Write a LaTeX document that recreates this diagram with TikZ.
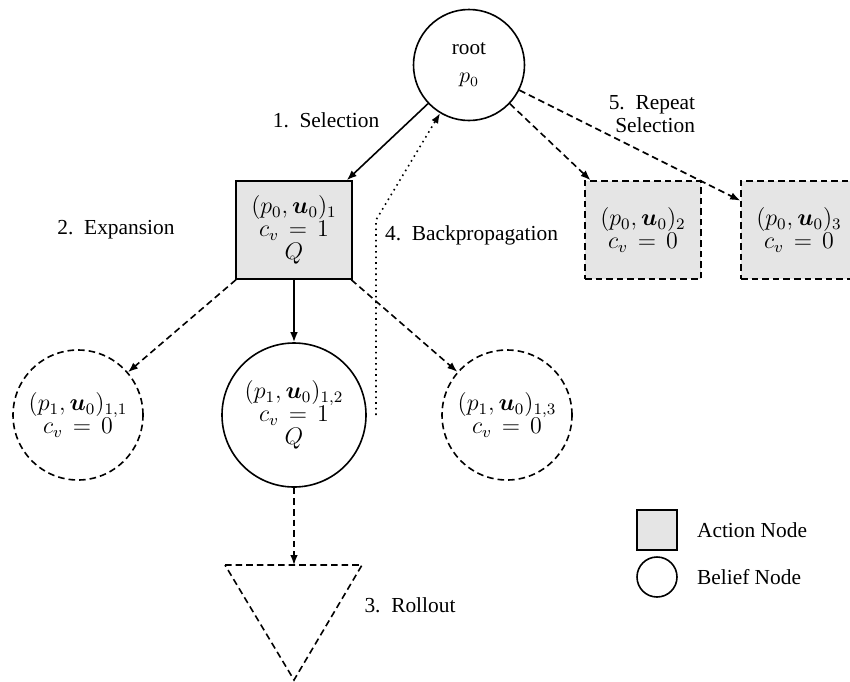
\documentclass[tikz,border=0pt]{standalone}
\usepackage{fontspec}
\setmainfont{Liberation Serif}
\usepackage{bm}
\usetikzlibrary{arrows.meta}
\thickmuskip=7.5mu plus 5mu
\begin{document}
\begin{tikzpicture}[x=0.5pt, y=-0.5pt,
        belief/.style={draw, circle, thick, inner sep=0pt, align=center,
            font=\fontsize{12}{11.5}\selectfont},
        newbelief/.style={belief, dash pattern=on 3.3pt off 2pt},
        action/.style={draw, rectangle, thick, fill=gray!20, inner sep=0pt,
            minimum width=58pt, minimum height=49pt, align=center,
            font=\fontsize{12}{11.5}\selectfont},
        newaction/.style={action, dash pattern=on 3.3pt off 2pt},
        steplabel/.style={align=center, font=\fontsize{10.7}{11.5}\selectfont},
        edge/.style={thick, -{Latex[length=5pt, width=3.8pt]}},
        newedge/.style={edge, dash pattern=on 3.3pt off 2pt}]
        \useasboundingbox (0, 0) rectangle (850, 681);

        % tree
        \node[belief, minimum size=55.5pt, font=\fontsize{10.6}{14}\selectfont]
            (root) at (469, 65) {root\\$p_0$};
        \node[action] (act1) at (294, 230) {$(p_0, \bm{u}_0)_1$\\$c_v = 1$\\$Q$};
        \node[newaction] (act2) at (643, 230) {$(p_0, \bm{u}_0)_2$\\$c_v = 0$};
        \node[newaction] (act3) at (799, 230) {$(p_0, \bm{u}_0)_3$\\$c_v = 0$};

        \node[newbelief, minimum size=65pt] (bel11) at (78, 415) {$(p_1, \bm{u}_0)_{1,1}$\\$c_v = 0$};
        \node[belief, minimum size=72pt] (bel12) at (294, 415) {$(p_1, \bm{u}_0)_{1,2}$\\$c_v = 1$\\$Q$};
        \node[newbelief, minimum size=65pt] (bel13) at (507, 415) {$(p_1, \bm{u}_0)_{1,3}$\\$c_v = 0$};

        % rollout
        \coordinate (rollout) at (294, 565);
        \draw[dash pattern=on 3.3pt off 2pt, thick] (225, 565) -- (362, 565) -- (294, 680) -- cycle;

        \draw[edge] (root) -- (act1);
        \draw[newedge] (root) -- (act2);
        \draw[newedge] (root) -- (act3);
        \draw[newedge] (act1) -- (bel11);
        \draw[edge] (act1) -- (bel12);
        \draw[newedge] (act1) -- (bel13);
        \draw[newedge] (bel12) -- (rollout);

        % backpropagation
        \coordinate (bp start) at (376, 415);
        \coordinate (bp bend) at (376, 220);
        \draw[thick, dotted, -{Latex[length=5pt, width=3.8pt]}] (bp start) -- (bp bend) -- (root);

        % step labels
        \node[steplabel] (sel) at (326, 120) {1.\enspace Selection};
        \node[steplabel] (exp) at (116, 230) {2.\enspace Expansion};
        \node[steplabel] (roll) at (410, 605) {3.\enspace Rollout};
        \node[steplabel, anchor=west] (back) at (378, 235) {4.\enspace Backpropagation};
        \node[steplabel, align=right, anchor=east] (rep) at (702, 114) {5.\enspace Repeat\\Selection};

        % legend
        \node[draw, thick, fill=gray!20, minimum size=20pt, inner sep=0pt] (leg act) at (657, 530) {};
        \node[draw, thick, circle, minimum size=20pt, inner sep=0pt] (leg bel) at (657, 577) {};
        \node[steplabel, anchor=west] (leg act text) at (690, 530) {Action Node};
        \node[steplabel, anchor=west] (leg bel text) at (690, 577) {Belief Node};
    \end{tikzpicture}
\end{document}
